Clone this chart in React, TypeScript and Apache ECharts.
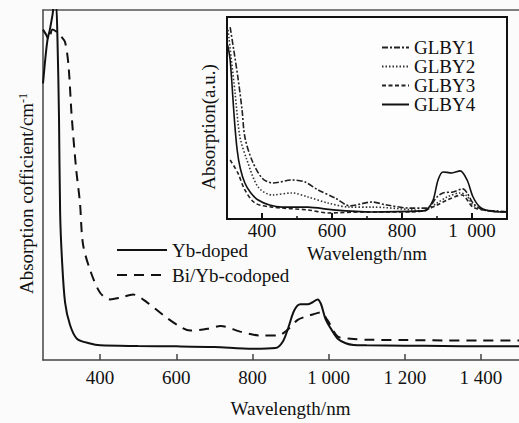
import React, { useEffect, useRef } from "react";
import * as echarts from "echarts";

const FONT = '"Liberation Serif", "Times New Roman", serif';

// Main chart: wavelength (nm) and absorption coefficient (arbitrary scale 0..100)
const ybNm = [250, 256, 262, 268, 275, 280, 284, 288, 292, 295, 300, 308, 321, 339, 374, 400, 500, 600, 700, 800, 860, 880, 895, 910, 926, 945, 958, 971, 980, 992, 1008, 1024, 1045, 1066, 1100, 1200, 1300, 1400, 1500];
const ybAbs = [79, 86, 91.6, 94.4, 98.6, 102, 102, 91.6, 69.4, 42, 28.4, 16.4, 10, 6.1, 4.7, 4.2, 4.0, 3.9, 3.7, 3.2, 3.4, 5.3, 9.5, 14.2, 15.9, 15.9, 16.5, 17.3, 16.0, 11.7, 8.6, 6.1, 4.8, 4.3, 4.2, 4.1, 4.0, 3.9, 3.9];

const biNm = [250, 258, 265, 275, 288, 297, 308, 317, 325, 337, 347, 355, 374, 400, 426, 453, 487, 524, 566, 603, 637, 682, 716, 768, 803, 821, 866, 892, 918, 940, 961, 979, 997, 1024, 1058, 1100, 1200, 1300, 1400, 1500];
const biAbs = [94.4, 93, 91.6, 94.4, 93.6, 92.5, 90.8, 84.1, 70.2, 54.6, 45, 33.1, 25.6, 19.2, 17.3, 17.8, 18.7, 16.4, 12.8, 10, 8.4, 8.9, 9.7, 8.1, 7.2, 7, 7, 8.6, 11.4, 12.4, 13.1, 13.6, 11.4, 6.7, 6.1, 5.8, 5.7, 5.6, 5.6, 5.6];

const mainTicks = [400, 600, 800, 1000, 1200, 1400];

// Inset chart: wavelength (nm) and absorption (a.u., 0..100)
const g1Nm = [309, 331, 343, 351, 371, 400, 431, 486, 523, 560, 609, 651, 714, 757, 823, 871, 900, 917, 946, 974, 986, 1003, 1031, 1071, 1100];
const g1Abs = [95, 70.3, 54, 40.6, 29.2, 20.3, 17.8, 19.3, 18.3, 14.4, 10.4, 6.5, 8.4, 6.9, 5.4, 5.4, 10.9, 12.9, 13.4, 14.9, 12.9, 7.9, 4.5, 4, 3.5];

const g2Nm = [303, 323, 337, 357, 389, 429, 486, 531, 589, 651, 714, 831, 860, 900, 929, 966, 986, 1003, 1051, 1100];
const g2Abs = [93.6, 62.4, 40.6, 29.2, 15.8, 11.9, 12.9, 10.9, 7.9, 5.9, 5.9, 4.5, 4, 7.9, 10.9, 12.9, 11.4, 6.9, 4, 3.5];

const g3Nm = [309, 331, 351, 380, 429, 531, 589, 689, 823, 860, 900, 929, 971, 1003, 1051, 1100];
const g3Abs = [29.2, 22.8, 14.4, 7.9, 5.9, 4.5, 3, 3.5, 3.5, 4, 6.9, 9.4, 11.9, 5.9, 4, 3.5];

const g4Nm = [302, 309, 329, 351, 389, 457, 531, 603, 714, 860, 871, 889, 903, 917, 943, 966, 986, 1003, 1023, 1051, 1100];
const g4Abs = [86, 78.7, 34.2, 17.8, 9.4, 5.9, 5.9, 4.5, 3.5, 4, 4.5, 9.4, 19.3, 23.3, 22.8, 23.8, 19.3, 10.9, 5.9, 4, 3.5];

const insetMajor = [400, 600, 800, 1000];
const insetMinor = [500, 700, 900];

const zip = (xs: number[], ys: number[]) => xs.map((x, i) => [x, ys[i]]);

const fmt = (sep: string) => (v: number) =>
  v >= 1000 ? `${Math.floor(v / 1000)}${sep}${String(v % 1000).padStart(3, "0")}` : String(v);

export default function App() {
  const ref = useRef<HTMLDivElement>(null);
  useEffect(() => {
    if (!ref.current) return;
    const chart = echarts.init(ref.current, null, { renderer: "svg" });
    const text = { fontFamily: FONT, color: "#111", fontSize: 19 };
    chart.setOption({
      animation: false,
      backgroundColor: "#fbfbfb",
      grid: [
        { left: 43, top: 10, right: 0, bottom: 55 },
        {
          left: 227, top: 17, width: 280, height: 202, show: true,
          borderColor: "#111", borderWidth: 2, backgroundColor: "#fdfdfd", z: 5,
        },
      ],
      legend: [
        {
          data: ["Yb-doped", "Bi/Yb-codoped"],
          orient: "vertical", left: 116, top: 240, padding: 0,
          itemWidth: 50, itemHeight: 14, itemGap: 5,
          itemStyle: { opacity: 0 },
          textStyle: { ...text, lineHeight: 20 },
        },
        {
          data: ["GLBY1", "GLBY2", "GLBY3", "GLBY4"],
          orient: "vertical", left: 381, top: 38, padding: 0,
          itemWidth: 27, itemHeight: 10, itemGap: 0,
          itemStyle: { opacity: 0 },
          textStyle: { ...text, lineHeight: 17.5 },
          z: 10,
        },
      ],
      xAxis: [
        {
          type: "value", gridIndex: 0, min: 250, max: 1500, position: "bottom",
          axisLine: { show: true, lineStyle: { color: "#444", width: 1.5 } },
          axisTick: { show: true, inside: true, length: 6, customValues: mainTicks, lineStyle: { color: "#444", width: 1.5 } },
          axisLabel: { customValues: mainTicks, formatter: fmt(" "), margin: 8, ...text },
          splitLine: { show: false },
          name: "Wavelength/nm", nameLocation: "middle", nameGap: 39,
          nameTextStyle: { ...text, padding: [0, 0, 0, 19] },
        },
        {
          type: "value", gridIndex: 0, min: 250, max: 1500, position: "top",
          axisLine: { show: true, lineStyle: { color: "#555", width: 1.5 } },
          axisTick: { show: false }, axisLabel: { show: false }, splitLine: { show: false },
        },
        {
          type: "value", gridIndex: 1, min: 300, max: 1100, position: "bottom",
          axisLine: { show: false },
          axisTick: { show: true, inside: true, length: 6, customValues: insetMajor, lineStyle: { color: "#111", width: 2 } },
          axisLabel: { customValues: insetMajor, formatter: fmt("\u2002"), margin: 2, ...text },
          splitLine: { show: false },
          name: "Wavelength/nm", nameLocation: "middle", nameGap: 25,
          nameTextStyle: { ...text },
          z: 6,
        },
        {
          type: "value", gridIndex: 1, min: 300, max: 1100, position: "bottom",
          axisLine: { show: false },
          axisTick: { show: true, inside: true, length: 3, customValues: insetMinor, lineStyle: { color: "#111", width: 1.5 } },
          axisLabel: { show: false }, splitLine: { show: false },
          z: 6,
        },
      ],
      yAxis: [
        {
          type: "value", gridIndex: 0, min: 0, max: 100,
          axisLine: { show: true, lineStyle: { color: "#444", width: 1.5 } },
          axisTick: { show: false }, axisLabel: { show: false }, splitLine: { show: false },
          name: "Absorption cofficient/cm{sup|-1}", nameLocation: "middle", nameGap: 7,
          nameTextStyle: {
            ...text, padding: [0, 17, 0, 0],
            rich: { sup: { fontFamily: FONT, fontSize: 12, color: "#111", verticalAlign: "top", lineHeight: 19 } },
          },
        },
        {
          type: "value", gridIndex: 1, min: 0, max: 100,
          axisLine: { show: false }, axisTick: { show: false }, axisLabel: { show: false }, splitLine: { show: false },
          name: "Absorption(a.u.)", nameLocation: "middle", nameGap: 9,
          nameTextStyle: { ...text, padding: [0, 18, 0, 0] },
        },
      ],
      series: [
        {
          name: "Yb-doped", type: "line", xAxisIndex: 0, yAxisIndex: 0, smooth: 0.3,
          symbol: "none", data: zip(ybNm, ybAbs),
          lineStyle: { color: "#111", width: 2, type: "solid" }, itemStyle: { color: "#111" },
        },
        {
          name: "Bi/Yb-codoped", type: "line", xAxisIndex: 0, yAxisIndex: 0, smooth: 0.3,
          symbol: "none", data: zip(biNm, biAbs),
          lineStyle: { color: "#111", width: 2, type: [10, 7] }, itemStyle: { color: "#111" },
        },
        {
          name: "GLBY1", type: "line", xAxisIndex: 2, yAxisIndex: 1, smooth: 0.3, z: 7,
          symbol: "none", data: zip(g1Nm, g1Abs),
          lineStyle: { color: "#222", width: 1.6, type: [6, 2, 2, 2] }, itemStyle: { color: "#222" },
        },
        {
          name: "GLBY2", type: "line", xAxisIndex: 2, yAxisIndex: 1, smooth: 0.3, z: 7,
          symbol: "none", data: zip(g2Nm, g2Abs),
          lineStyle: { color: "#333", width: 1.6, type: [1.5, 2] }, itemStyle: { color: "#333" },
        },
        {
          name: "GLBY3", type: "line", xAxisIndex: 2, yAxisIndex: 1, smooth: 0.3, z: 7,
          symbol: "none", data: zip(g3Nm, g3Abs),
          lineStyle: { color: "#222", width: 1.6, type: [4, 2.5] }, itemStyle: { color: "#222" },
        },
        {
          name: "GLBY4", type: "line", xAxisIndex: 2, yAxisIndex: 1, smooth: 0.3, z: 7,
          symbol: "none", data: zip(g4Nm, g4Abs),
          lineStyle: { color: "#111", width: 1.6, type: "solid" }, itemStyle: { color: "#111" },
        },
      ],
    });
    return () => chart.dispose();
  }, []);
  return (
    <div
      ref={ref}
      style={{ position: "fixed", left: 0, top: 0, width: 519, height: 423 }}
    />
  );
}
